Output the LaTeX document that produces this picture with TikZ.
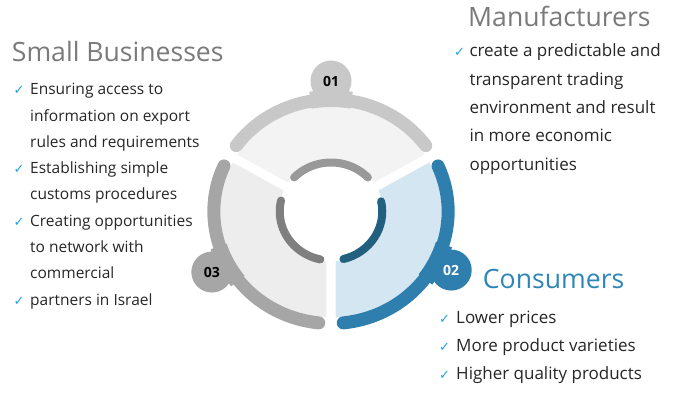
\documentclass[tikz,border=0pt]{standalone}
\usepackage{fontspec}
\setmainfont{Open Sans}
\newfontfamily\symfont{DejaVu Sans}
\definecolor{bandA}{HTML}{C8C8C8}
\definecolor{fillA}{HTML}{F3F3F3}
\definecolor{arcA}{HTML}{999999}
\definecolor{bandB}{HTML}{2E7FAE}
\definecolor{fillB}{HTML}{D4E6F2}
\definecolor{arcB}{HTML}{22607F}
\definecolor{bandC}{HTML}{A6A6A6}
\definecolor{fillC}{HTML}{EDEDED}
\definecolor{arcC}{HTML}{7F7F7F}
\definecolor{txtc}{HTML}{262626}
\definecolor{chkc}{HTML}{1FA2E0}
\definecolor{headgray}{HTML}{7A7A7A}
\definecolor{headblue}{HTML}{2E86B8}
\begin{document}
\begin{tikzpicture}[x=1pt,y=1pt,
  body/.style={anchor=base west, inner sep=0pt, font=\fontsize{15.5}{18}\selectfont, text=txtc},
  bodyR/.style={body, font=\fontsize{17}{20}\selectfont},
  chk/.style={anchor=base west, inner sep=0pt, font=\symfont\bfseries\fontsize{13}{15}\selectfont, text=chkc},
  head/.style={anchor=base west, inner sep=0pt, font=\fontsize{26.6}{30}\selectfont},
  band/.style={line width=13pt, line cap=round},
  inarc/.style={line width=8pt, line cap=round},
  num/.style={circle, minimum size=41pt, inner sep=0pt, font=\bfseries\fontsize{14}{16}\selectfont}]
\useasboundingbox (0,0) rectangle (680,393);
\begin{scope}[shift={(331,181.5)}, xscale=1.046]
  % fills
  \fill[fillA] (35.16:50) -- (32.43:106) arc[start angle=32.43,end angle=147.57,radius=106] -- (144.84:50) arc[start angle=144.84,end angle=35.16,radius=50] -- cycle;
  \fill[fillC] (155.16:50) -- (152.43:106) arc[start angle=152.43,end angle=267.57,radius=106] -- (264.84:50) arc[start angle=264.84,end angle=155.16,radius=50] -- cycle;
  \fill[fillB] (-84.84:50) -- (-87.57:106) arc[start angle=-87.57,end angle=27.57,radius=106] -- (24.84:50) arc[start angle=24.84,end angle=-84.84,radius=50] -- cycle;
  % outer bands
  \draw[band, bandA] (36:112) arc[start angle=36,end angle=144,radius=112];
  \draw[band, bandC] (156:112) arc[start angle=156,end angle=264,radius=112];
  \draw[band, bandB] (-84:112) arc[start angle=-84,end angle=24,radius=112];
  % fillets joining the number circles to the bands
  \draw[line width=17pt, bandA] (80:113) arc[start angle=80,end angle=100,radius=113];
  \draw[line width=17pt, bandB] (-37:113) arc[start angle=-37,end angle=-17,radius=113];
  \draw[line width=17pt, bandC] (198:113) arc[start angle=198,end angle=218,radius=113];
  % inner arcs
  \draw[inarc, arcA] (44:49) arc[start angle=44,end angle=136,radius=49];
  \draw[inarc, arcC] (167:49) arc[start angle=167,end angle=258,radius=49];
  \draw[inarc, arcB] (-76:49) arc[start angle=-76,end angle=12,radius=49];
  % number circles
  \node[num, fill=bandA, text=black] (n1) at (90:130.5) {01};
  \node[num, fill=bandB, text=white] (n2) at (-27:129) {02};
  \node[num, fill=bandC, text=black] (n3) at (208:129) {03};
\end{scope}
% Small Businesses
\node[head, text=headgray] (h1) at (11.7,331.3) {Small Businesses};
\node[chk] (c1a) at (13.5,298) {✓};
\node[body] (t1a) at (30,298) {Ensuring access to};
\node[body] (t1b) at (30,271.7) {information on export};
\node[body] (t1c) at (30,245.4) {rules and requirements};
\node[chk] (c1b) at (13.5,219) {✓};
\node[body] (t1d) at (30,219) {Establishing simple};
\node[body] (t1e) at (30,193) {customs procedures};
\node[chk] (c1c) at (13.5,166.5) {✓};
\node[body] (t1f) at (30,166.5) {Creating opportunities};
\node[body] (t1g) at (30,140.2) {to network with};
\node[body] (t1h) at (30,114) {commercial};
\node[chk] (c1d) at (13.5,87.5) {✓};
\node[body] (t1i) at (30,87.5) {partners in Israel};
% Manufacturers
\node[head, text=headgray] (h2) at (468,366.3) {Manufacturers};
\node[chk] (c2a) at (454,336) {✓};
\node[bodyR] (t2a) at (469.3,336) {create a predictable and};
\node[bodyR] (t2b) at (469.3,307.7) {transparent trading};
\node[bodyR] (t2c) at (469.3,279.4) {environment and result};
\node[bodyR] (t2d) at (469.3,251) {in more economic};
\node[bodyR] (t2e) at (469.3,222.7) {opportunities};
% Consumers
\node[head, text=headblue] (h3) at (482.7,104.7) {Consumers};
\node[chk] (c3a) at (439,69.7) {✓};
\node[bodyR] (t3a) at (456,69.7) {Lower prices};
\node[chk] (c3b) at (439,41.3) {✓};
\node[bodyR] (t3b) at (456,41.3) {More product varieties};
\node[chk] (c3c) at (439,13) {✓};
\node[bodyR] (t3c) at (456,13) {Higher quality products};
\end{tikzpicture}
\end{document}
